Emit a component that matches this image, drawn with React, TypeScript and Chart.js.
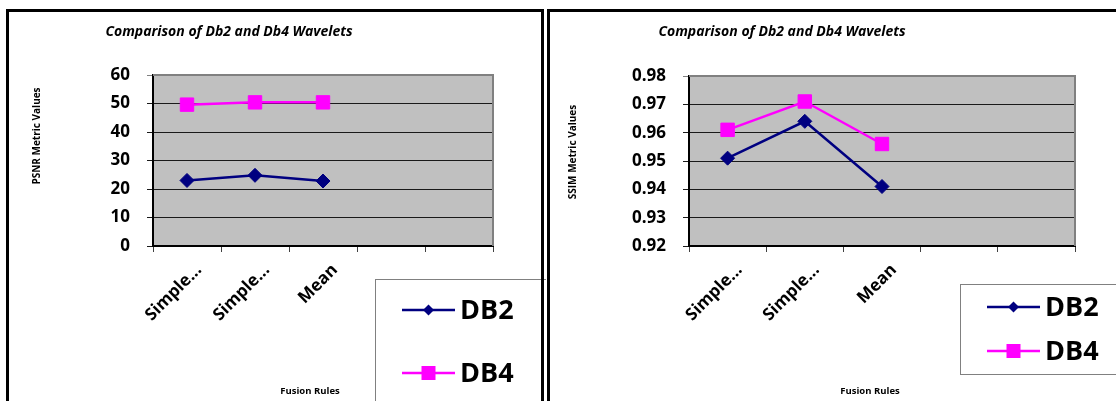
import React, { useEffect, useRef } from "react";
import { Chart, registerables } from "chart.js";

Chart.register(...registerables);

// ---------------- data ----------------
const categories = ["Simple...", "Simple...", "Mean", "", ""];
const seriesNames = ["DB2", "DB4"];
const psnrDb2 = [23.0, 24.8, 22.8, null, null];
const psnrDb4 = [49.6, 50.4, 50.4, null, null];
const ssimDb2 = [0.951, 0.964, 0.941, null, null];
const ssimDb4 = [0.961, 0.971, 0.956, null, null];
const psnrAxis = { min: 0, max: 60, step: 10, decimals: 0 };
const ssimAxis = { min: 0.92, max: 0.98, step: 0.01, decimals: 2 };
const chartTitle = "Comparison of Db2 and Db4 Wavelets";
const psnrAxisTitle = "PSNR Metric Values";
const ssimAxisTitle = "SSIM Metric Values";
const xAxisTitle = "Fusion Rules";

// ---------------- styles ----------------
const FONT = "'Open Sans', Lato, 'DejaVu Sans', sans-serif";
const DB2_COLOR = "#000080";
const DB4_COLOR = "#ff00ff";

type PanelCfg = {
  width: number;
  height: number;
  padTop: number;
  padRight: number;
  yWidth: number;
  xHeight: number;
  titleX: number;
  titleY: number;
  yTitleX: number;
  yTitleY: number;
  xTitleX: number;
  xTitleY: number;
  legend: { x: number; y: number; w: number; h: number; rows: number[]; lineX1: number; lineX2: number; textX: number };
};

function makeDecor(cfg: PanelCfg, yTitle: string) {
  return {
    id: "decor",
    beforeDraw(chart: any) {
      const { ctx, chartArea } = chart;
      const { left, top, right, bottom } = chartArea;
      ctx.save();
      ctx.fillStyle = "#ffffff";
      ctx.fillRect(0, 0, chart.width, chart.height);
      ctx.fillStyle = "#c0c0c0";
      ctx.fillRect(left, top, right - left, bottom - top);
      ctx.restore();
    },
    beforeDatasetsDraw(chart: any) {
      const { ctx, chartArea } = chart;
      const { left, top, right, bottom } = chartArea;
      ctx.save();
      ctx.strokeStyle = "#808080";
      ctx.lineWidth = 2;
      ctx.beginPath();
      ctx.moveTo(left, top);
      ctx.lineTo(right, top);
      ctx.lineTo(right, bottom);
      ctx.stroke();
      ctx.restore();
    },
    afterDraw(chart: any) {
      const { ctx } = chart;
      ctx.save();
      // title
      ctx.fillStyle = "#000";
      ctx.textAlign = "center";
      ctx.textBaseline = "middle";
      ctx.font = `italic bold 14px ${FONT}`;
      ctx.fillText(chartTitle, cfg.titleX, cfg.titleY);
      // x title
      ctx.font = `bold 9.5px ${FONT}`;
      ctx.fillText(xAxisTitle, cfg.xTitleX, cfg.xTitleY);
      // y title
      ctx.save();
      ctx.translate(cfg.yTitleX, cfg.yTitleY);
      ctx.rotate(-Math.PI / 2);
      ctx.font = `bold 10px ${FONT}`;
      ctx.fillText(yTitle, 0, 0);
      ctx.restore();
      // legend
      const lg = cfg.legend;
      ctx.fillStyle = "#fff";
      ctx.fillRect(lg.x, lg.y, lg.w, lg.h);
      ctx.strokeStyle = "#808080";
      ctx.lineWidth = 1;
      ctx.strokeRect(lg.x + 0.5, lg.y + 0.5, lg.w, lg.h);
      chart.data.datasets.forEach((ds: any, i: number) => {
        const y = lg.rows[i];
        const mx = (lg.lineX1 + lg.lineX2) / 2;
        ctx.strokeStyle = ds.borderColor;
        ctx.lineWidth = 2.5;
        ctx.beginPath();
        ctx.moveTo(lg.lineX1, y);
        ctx.lineTo(lg.lineX2, y);
        ctx.stroke();
        ctx.fillStyle = ds.backgroundColor;
        ctx.beginPath();
        if (ds.pointStyle === "rectRot") {
          const r = 5.5;
          ctx.moveTo(mx, y - r);
          ctx.lineTo(mx + r, y);
          ctx.lineTo(mx, y + r);
          ctx.lineTo(mx - r, y);
          ctx.closePath();
        } else {
          const s = 7;
          ctx.rect(mx - s, y - s, 2 * s, 2 * s);
        }
        ctx.fill();
        ctx.fillStyle = "#000";
        ctx.textAlign = "left";
        ctx.textBaseline = "middle";
        ctx.font = `bold 27px ${FONT}`;
        ctx.fillText(ds.label, lg.textX, y + 1);
      });
      ctx.restore();
    },
  };
}

function buildConfig(cfg: PanelCfg, d2: (number | null)[], d4: (number | null)[], axis: typeof psnrAxis, yTitle: string) {
  return {
    type: "line" as const,
    data: {
      labels: categories,
      datasets: [
        {
          label: seriesNames[0],
          data: d2,
          borderColor: DB2_COLOR,
          backgroundColor: DB2_COLOR,
          borderWidth: 2.5,
          pointStyle: "rectRot",
          pointRadius: 7,
          pointBorderWidth: 1,
          pointBackgroundColor: DB2_COLOR,
          pointBorderColor: DB2_COLOR,
          spanGaps: false,
        },
        {
          label: seriesNames[1],
          data: d4,
          borderColor: DB4_COLOR,
          backgroundColor: DB4_COLOR,
          borderWidth: 2.5,
          pointStyle: "rect",
          pointRadius: 9.5,
          pointBorderWidth: 1,
          pointBackgroundColor: DB4_COLOR,
          pointBorderColor: DB4_COLOR,
          spanGaps: false,
        },
      ],
    },
    options: {
      responsive: false,
      animation: false,
      devicePixelRatio: 1,
      layout: { padding: { left: 0, top: cfg.padTop, right: cfg.padRight, bottom: 0 } },
      plugins: {
        legend: { display: false },
        title: { display: false },
        tooltip: { enabled: false },
      },
      scales: {
        x: {
          type: "category",
          offset: true,
          grid: {
            offset: true,
            drawOnChartArea: false,
            drawTicks: true,
            tickLength: 6,
            color: "#404040",
            lineWidth: 1,
          },
          border: { display: true, color: "#000", width: 2 },
          ticks: {
            autoSkip: false,
            maxRotation: 45,
            minRotation: 45,
            padding: 8,
            labelOffset: 12,
            color: "#000",
            font: { family: FONT, size: 17, weight: "bold" },
          },
          afterFit: (s: any) => {
            s.height = cfg.xHeight;
            s.paddingLeft = 0;
            s.paddingRight = 0;
          },
        },
        y: {
          type: "linear",
          min: axis.min,
          max: axis.max,
          grid: {
            drawTicks: true,
            tickLength: 6,
            color: (c: any) => (c.index === c.chart.scales.y.ticks.length - 1 ? "#808080" : "#1a1a1a"),
            lineWidth: 1,
          },
          border: { display: true, color: "#000", width: 2 },
          ticks: {
            stepSize: axis.step,
            padding: 17,
            color: "#000",
            font: { family: FONT, size: 17, weight: "bold" },
            callback: (v: any) => Number(v).toFixed(axis.decimals),
          },
          afterFit: (s: any) => {
            s.width = cfg.yWidth;
            s.paddingTop = 0;
            s.paddingBottom = 0;
          },
        },
      },
    },
    plugins: [makeDecor(cfg, yTitle)],
  };
}

const leftCfg: PanelCfg = {
  width: 546,
  height: 401,
  padTop: 75,
  padRight: 53,
  yWidth: 153,
  xHeight: 155,
  titleX: 229,
  titleY: 32,
  yTitleX: 37,
  yTitleY: 136,
  xTitleX: 310,
  xTitleY: 391,
  legend: { x: 375, y: 279, w: 200, h: 200, rows: [310, 373], lineX1: 402, lineX2: 455, textX: 460 },
};

const rightCfg: PanelCfg = {
  width: 570,
  height: 401,
  padTop: 76,
  padRight: 41,
  yWidth: 143,
  xHeight: 155,
  titleX: 236,
  titleY: 32,
  yTitleX: 27,
  yTitleY: 152,
  xTitleX: 324,
  xTitleY: 391,
  legend: { x: 414, y: 284, w: 200, h: 90, rows: [307, 351], lineX1: 441, lineX2: 494, textX: 499 },
};

function Panel({ cfg, d2, d4, axis, yTitle, left }: any) {
  const ref = useRef<HTMLCanvasElement | null>(null);
  useEffect(() => {
    if (!ref.current) return;
    const chart = new Chart(ref.current, buildConfig(cfg, d2, d4, axis, yTitle) as any);
    return () => chart.destroy();
  }, []);
  return (
    <div style={{ position: "absolute", left, top: 0, width: cfg.width, height: cfg.height }}>
      <canvas ref={ref} width={cfg.width} height={cfg.height} style={{ display: "block" }} />
    </div>
  );
}

export default function App() {
  return (
    <div style={{ position: "absolute", left: 0, top: 0, width: 1116, height: 401, overflow: "hidden", background: "#fff" }}>
      <Panel cfg={leftCfg} d2={psnrDb2} d4={psnrDb4} axis={psnrAxis} yTitle={psnrAxisTitle} left={0} />
      <Panel cfg={rightCfg} d2={ssimDb2} d4={ssimDb4} axis={ssimAxis} yTitle={ssimAxisTitle} left={546} />
      <div style={{ position: "absolute", left: 6, top: 9, width: 538, height: 500, boxSizing: "border-box", borderTop: "3px solid #000", borderLeft: "3px solid #000", borderRight: "3px solid #000" }} />
      <div style={{ position: "absolute", left: 547, top: 9, width: 600, height: 500, boxSizing: "border-box", borderTop: "3px solid #000", borderLeft: "3px solid #000" }} />
    </div>
  );
}
